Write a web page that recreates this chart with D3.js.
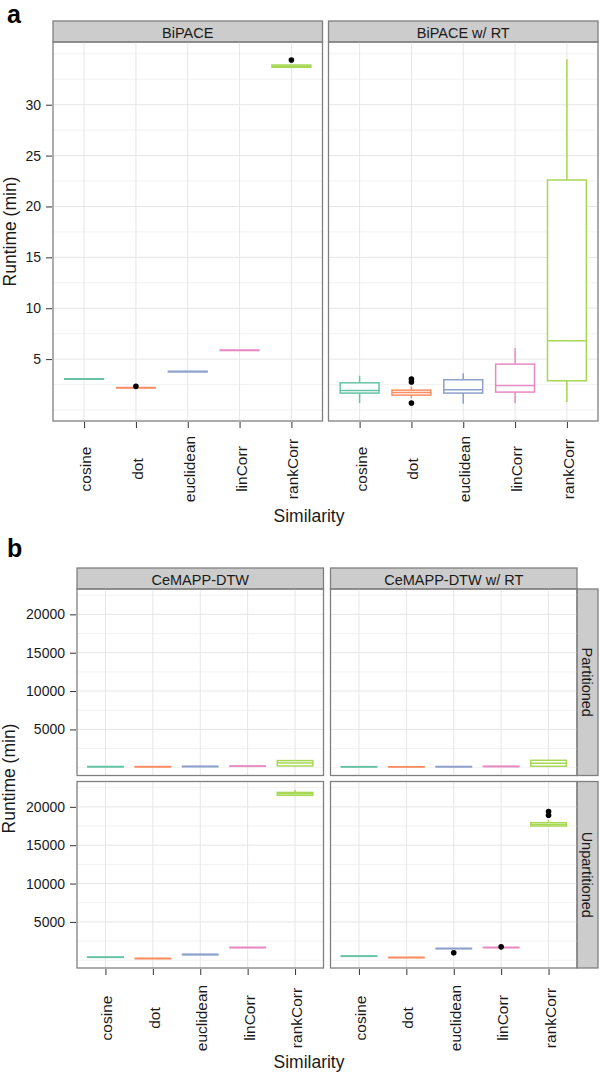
<!DOCTYPE html>
<html>
<head>
<meta charset="utf-8">
<script src="https://cdn.jsdelivr.net/npm/d3@7"></script>
<style>
  body { margin: 0; background: #fff; }
  svg { display: block; font-family: "Liberation Sans", Arial, sans-serif; }
</style>
</head>
<body>
<div id="chart"></div>
<script>
// categories + colours (Set2)
const similarities = ["cosine", "dot", "euclidean", "linCorr", "rankCorr"];
const colors = ["#66C2A5", "#FC8D62", "#8DA0CB", "#E78AC3", "#A6D854"];

// ---- panel a : BiPACE ----  box stats = [lower whisker, q1, median, q3, upper whisker]
const biPaceCols = ["BiPACE", "BiPACE w/ RT"];
const biPaceTicks = [5, 10, 15, 20, 25, 30];
const biPaceStats = [
  [3.02, 3.03, 3.05, 3.07, 3.08],
  [2.16, 2.17, 2.19, 2.21, 2.22],
  [3.74, 3.75, 3.77, 3.79, 3.80],
  [5.83, 5.84, 5.86, 5.88, 5.89],
  [33.65, 33.68, 33.78, 33.90, 33.92]
];
const biPaceOutliers = [[], [2.32], [], [], [34.4]];
const biPaceRtStats = [
  [0.68, 1.66, 1.92, 2.67, 3.36],
  [1.15, 1.46, 1.72, 1.95, 2.30],
  [0.61, 1.66, 1.98, 2.97, 3.62],
  [0.68, 1.76, 2.41, 4.51, 6.08],
  [0.78, 2.87, 6.80, 22.6, 34.47]
];
const biPaceRtOutliers = [[], [3.05, 2.75, 0.68], [], [], []];

// ---- panel b : CeMAPP-DTW ----
const cemappCols = ["CeMAPP-DTW", "CeMAPP-DTW w/ RT"];
const cemappRows = ["Partitioned", "Unpartitioned"];
const cemappTicks = [5000, 10000, 15000, 20000];
const dtwPartStats = [
  [120, 130, 150, 170, 180],
  [110, 120, 140, 160, 170],
  [140, 150, 170, 190, 200],
  [180, 190, 210, 230, 240],
  [234, 234, 610, 935, 935]
];
const dtwPartOutliers = [[], [], [], [], []];
const dtwRtPartStats = [
  [100, 110, 130, 150, 160],
  [100, 110, 125, 140, 150],
  [120, 130, 150, 170, 180],
  [150, 160, 180, 200, 210],
  [195, 195, 584, 974, 974]
];
const dtwRtPartOutliers = [[], [], [], [], []];
const dtwUnpartStats = [
  [360, 380, 400, 420, 440],
  [200, 215, 230, 245, 260],
  [700, 720, 750, 780, 800],
  [1620, 1640, 1660, 1680, 1700],
  [21450, 21500, 21700, 21880, 22200]
];
const dtwUnpartOutliers = [[], [], [], [], []];
const dtwRtUnpartStats = [
  [500, 515, 535, 555, 570],
  [330, 345, 360, 375, 390],
  [1500, 1510, 1530, 1550, 1560],
  [1640, 1650, 1660, 1680, 1690],
  [17450, 17505, 17700, 17935, 18285]
];
const dtwRtUnpartOutliers = [[], [], [970], [1750], [18900, 19400]];

const width = 600;
const height = 1073;

const svg = d3.select("#chart")
  .append("svg")
    .attr("width", width)
    .attr("height", height);

const stripSize = 21;
const borderColor = "#808080";
const stripFill = "#cccccc";
const fontFamily = "Liberation Sans, Arial, sans-serif";

function drawFacets(opt) {
  const nCol = opt.cols.length;
  const nRow = opt.cells.length;
  const panelRight = opt.rows ? opt.right - stripSize : opt.right;
  const pw = (panelRight - opt.left - (nCol - 1) * opt.colGap) / nCol;
  const top = opt.top + stripSize;
  const ph = (opt.bottom - top - (nRow - 1) * opt.rowGap) / nRow;

  // shared y domain, 5% expansion like ggplot
  const all = opt.cells.flat().flatMap(c => c.stats.flat().concat(c.outliers.flat()));
  const [mn, mx] = d3.extent(all);
  const pad = (mx - mn) * 0.05;
  const yDomain = [mn - pad, mx + pad];

  const xScale = d3.scalePoint()
    .domain(similarities)
    .range([0, pw])
    .padding(0.6);
  const boxW = xScale.step() * 0.75;

  const tStep = opt.ticks[1] - opt.ticks[0];
  const minor = d3.range(opt.ticks[0] - tStep, opt.ticks[opt.ticks.length - 1] + tStep * 1.01, tStep / 2)
    .filter(v => v >= yDomain[0] && v <= yDomain[1] && !opt.ticks.includes(v));

  // column strips
  opt.cols.forEach((label, c) => {
    const sx = opt.left + c * (pw + opt.colGap);
    svg.append("rect")
      .attr("x", sx).attr("y", opt.top)
      .attr("width", pw).attr("height", stripSize)
      .attr("fill", stripFill)
      .attr("stroke", borderColor).attr("stroke-width", 1.3);
    svg.append("text")
      .attr("x", sx + pw / 2).attr("y", opt.top + stripSize / 2 + 1)
      .attr("text-anchor", "middle").attr("dominant-baseline", "central")
      .attr("font-size", 14.5).attr("fill", "#1a1a1a")
      .text(label);
  });

  // row strips
  if (opt.rows) {
    opt.rows.forEach((label, r) => {
      const sy = top + r * (ph + opt.rowGap);
      svg.append("rect")
        .attr("x", panelRight).attr("y", sy)
        .attr("width", stripSize).attr("height", ph)
        .attr("fill", stripFill)
        .attr("stroke", borderColor).attr("stroke-width", 1.3);
      svg.append("text")
        .attr("transform", `translate(${panelRight + stripSize / 2 - 1}, ${sy + ph / 2}) rotate(90)`)
        .attr("text-anchor", "middle").attr("dominant-baseline", "central")
        .attr("font-size", 14.5).attr("fill", "#1a1a1a")
        .text(label);
    });
  }

  opt.cells.forEach((row, r) => {
    row.forEach((cell, c) => {
      const px = opt.left + c * (pw + opt.colGap);
      const py = top + r * (ph + opt.rowGap);
      const yScale = d3.scaleLinear().domain(yDomain).range([ph, 0]);
      const panel = svg.append("g").attr("transform", `translate(${px}, ${py})`);

      // grid
      panel.selectAll(".minor").data(minor).join("line")
        .attr("x1", 0).attr("x2", pw)
        .attr("y1", d => yScale(d)).attr("y2", d => yScale(d))
        .attr("stroke", "#f2f2f2").attr("stroke-width", 1);
      panel.selectAll(".major").data(opt.ticks).join("line")
        .attr("x1", 0).attr("x2", pw)
        .attr("y1", d => yScale(d)).attr("y2", d => yScale(d))
        .attr("stroke", "#e6e6e6").attr("stroke-width", 1);
      panel.selectAll(".vgrid").data(similarities).join("line")
        .attr("x1", d => xScale(d)).attr("x2", d => xScale(d))
        .attr("y1", 0).attr("y2", ph)
        .attr("stroke", "#e6e6e6").attr("stroke-width", 1);

      // boxes
      cell.stats.forEach((s, i) => {
        const cx = xScale(similarities[i]);
        const col = colors[i];
        const bg = panel.append("g")
          .attr("stroke", col).attr("stroke-width", 1.5).attr("fill", "none");
        bg.append("line")
          .attr("x1", cx).attr("x2", cx)
          .attr("y1", yScale(s[0])).attr("y2", yScale(s[1]));
        bg.append("line")
          .attr("x1", cx).attr("x2", cx)
          .attr("y1", yScale(s[3])).attr("y2", yScale(s[4]));
        bg.append("rect")
          .attr("x", cx - boxW / 2).attr("width", boxW)
          .attr("y", yScale(s[3]))
          .attr("height", Math.max(0, yScale(s[1]) - yScale(s[3])))
          .attr("fill", "#fff");
        bg.append("line")
          .attr("x1", cx - boxW / 2).attr("x2", cx + boxW / 2)
          .attr("y1", yScale(s[2])).attr("y2", yScale(s[2]));
        panel.selectAll(null).data(cell.outliers[i]).join("circle")
          .attr("cx", cx).attr("cy", d => yScale(d))
          .attr("r", 2.8).attr("fill", "#000");
      });

      panel.append("rect")
        .attr("width", pw).attr("height", ph)
        .attr("fill", "none")
        .attr("stroke", borderColor).attr("stroke-width", 1.3);

      // y axis on first column
      if (c === 0) {
        const ax = panel.append("g")
          .attr("transform", "translate(-1, 0)")
          .call(d3.axisLeft(yScale).tickValues(opt.ticks).tickFormat(d3.format("d")).tickSize(6).tickPadding(5));
        ax.select(".domain").remove();
        ax.selectAll(".tick line").attr("stroke", "#333");
        ax.selectAll(".tick text")
          .attr("font-size", 14).attr("fill", "#1a1a1a")
          .attr("font-family", fontFamily);
      }

      // x axis on bottom row
      if (r === nRow - 1) {
        const ax = panel.append("g")
          .attr("transform", `translate(0, ${ph + 1})`)
          .call(d3.axisBottom(xScale).tickSize(6));
        ax.select(".domain").remove();
        ax.selectAll(".tick line").attr("stroke", "#333");
        ax.selectAll(".tick text")
          .attr("x", 0).attr("y", 0).attr("dy", null)
          .attr("text-anchor", "middle").attr("dominant-baseline", "central")
          .attr("transform", `translate(1, ${opt.xLabelY - (py + ph + 1)}) rotate(-90)`)
          .attr("font-size", 15.5).attr("fill", "#1a1a1a")
          .attr("font-family", fontFamily);
      }
    });
  });

  // titles
  svg.append("text")
    .attr("x", 309).attr("y", opt.titleY)
    .attr("text-anchor", "middle")
    .attr("font-size", 17.5).attr("fill", "#1a1a1a")
    .text("Similarity");
  svg.append("text")
    .attr("transform", `translate(${opt.yTitleX}, ${(top + opt.bottom) / 2}) rotate(-90)`)
    .attr("text-anchor", "middle").attr("dominant-baseline", "central")
    .attr("font-size", 17.5).attr("fill", "#1a1a1a")
    .text("Runtime (min)");
  svg.append("text")
    .attr("x", 7).attr("y", opt.tagY)
    .attr("font-size", 25).attr("font-weight", "bold").attr("fill", "#000")
    .text(opt.tag);
}

drawFacets({
  tag: "a", tagY: 23,
  top: 21, left: 53, right: 598, bottom: 421,
  colGap: 6, rowGap: 0,
  cols: biPaceCols, rows: null,
  cells: [[
    {stats: biPaceStats, outliers: biPaceOutliers},
    {stats: biPaceRtStats, outliers: biPaceRtOutliers}
  ]],
  ticks: biPaceTicks,
  xLabelY: 469, titleY: 522, yTitleX: 10
});

drawFacets({
  tag: "b", tagY: 557,
  top: 568, left: 77, right: 598, bottom: 968,
  colGap: 7, rowGap: 6,
  cols: cemappCols, rows: cemappRows,
  cells: [
    [{stats: dtwPartStats, outliers: dtwPartOutliers},
     {stats: dtwRtPartStats, outliers: dtwRtPartOutliers}],
    [{stats: dtwUnpartStats, outliers: dtwUnpartOutliers},
     {stats: dtwRtUnpartStats, outliers: dtwRtUnpartOutliers}]
  ],
  ticks: cemappTicks,
  xLabelY: 1018, titleY: 1068, yTitleX: 9
});
</script>
</body>
</html>
